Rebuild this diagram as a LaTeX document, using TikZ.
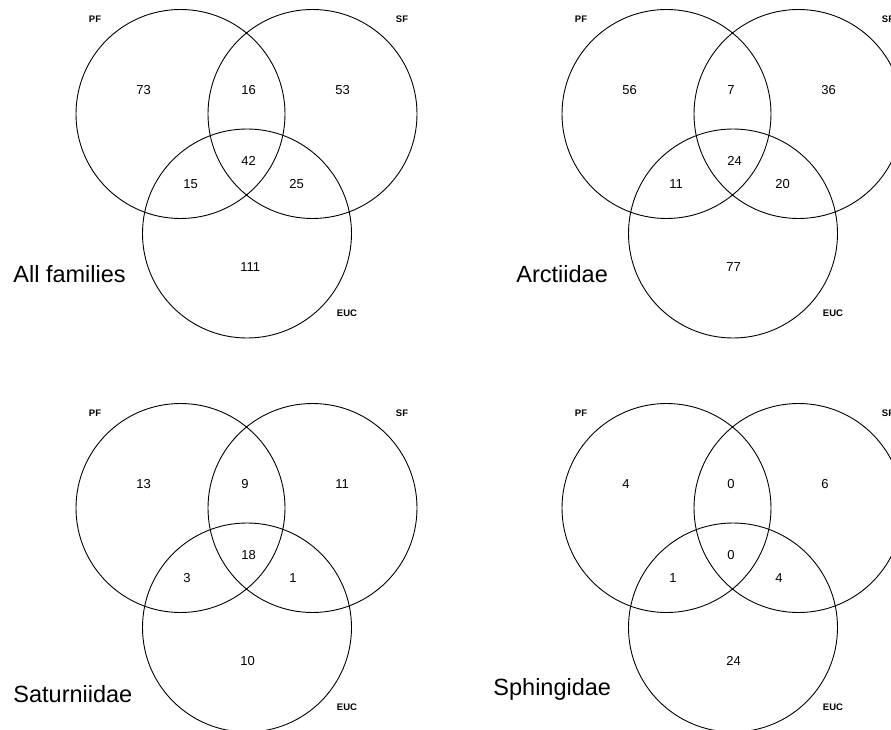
\documentclass[tikz,border=0pt]{standalone}
\usepackage{fontspec}
\setmainfont{Liberation Sans}

\begin{document}
\begin{tikzpicture}[x=1pt,y=-1pt,line width=.9pt,
  setname/.style={font=\fontsize{9.5}{10}\selectfont\bfseries},
  count/.style={anchor=west,inner sep=0pt,font=\fontsize{13}{14}\selectfont},
  family/.style={anchor=base west,inner sep=0pt,font=\fontsize{23.5}{25}\selectfont}]
\useasboundingbox (0,0) rectangle (891,730);
\foreach \dx/\dy/\k/\fam/\fx/\fy/\a/\ab/\b/\abc/\ac/\bc/\c in
  {0/0/tl/All families/13/282/73/16/53/42/15/25/111,
   486/0/tr/Arctiidae/516/282/56/7/36/24/11/20/77,
   0/394/bl/Saturniidae/13/702/13/9/11/18/3/1/10,
   486/394/br/Sphingidae/493/695/4/0/6/0/1/4/24}
{
\begin{scope}[shift={(\dx,\dy)}]
\draw (180.5,114) circle (104.5);
\draw (312.5,114) circle (104.5);
\draw (247,233.5) circle (104.5);
\node[setname] (pf-\k) at (95,19) {PF};
\node[setname] (sf-\k) at (402,19) {SF};
\node[setname] (euc-\k) at (347,313) {EUC};
\node[count] (a-\k) at (136,90) {\a};
\node[count] (ab-\k) at (241,90) {\ab};
\node[count] (b-\k) at (335,90) {\b};
\node[count] (abc-\k) at (241,161) {\abc};
\node[count] (ac-\k) at (183,184) {\ac};
\node[count] (bc-\k) at (289,184) {\bc};
\node[count] (c-\k) at (240,267) {\c};
\end{scope}
\node[family] (fam-\k) at (\fx,\fy) {\fam};
}
\end{tikzpicture}
\end{document}
